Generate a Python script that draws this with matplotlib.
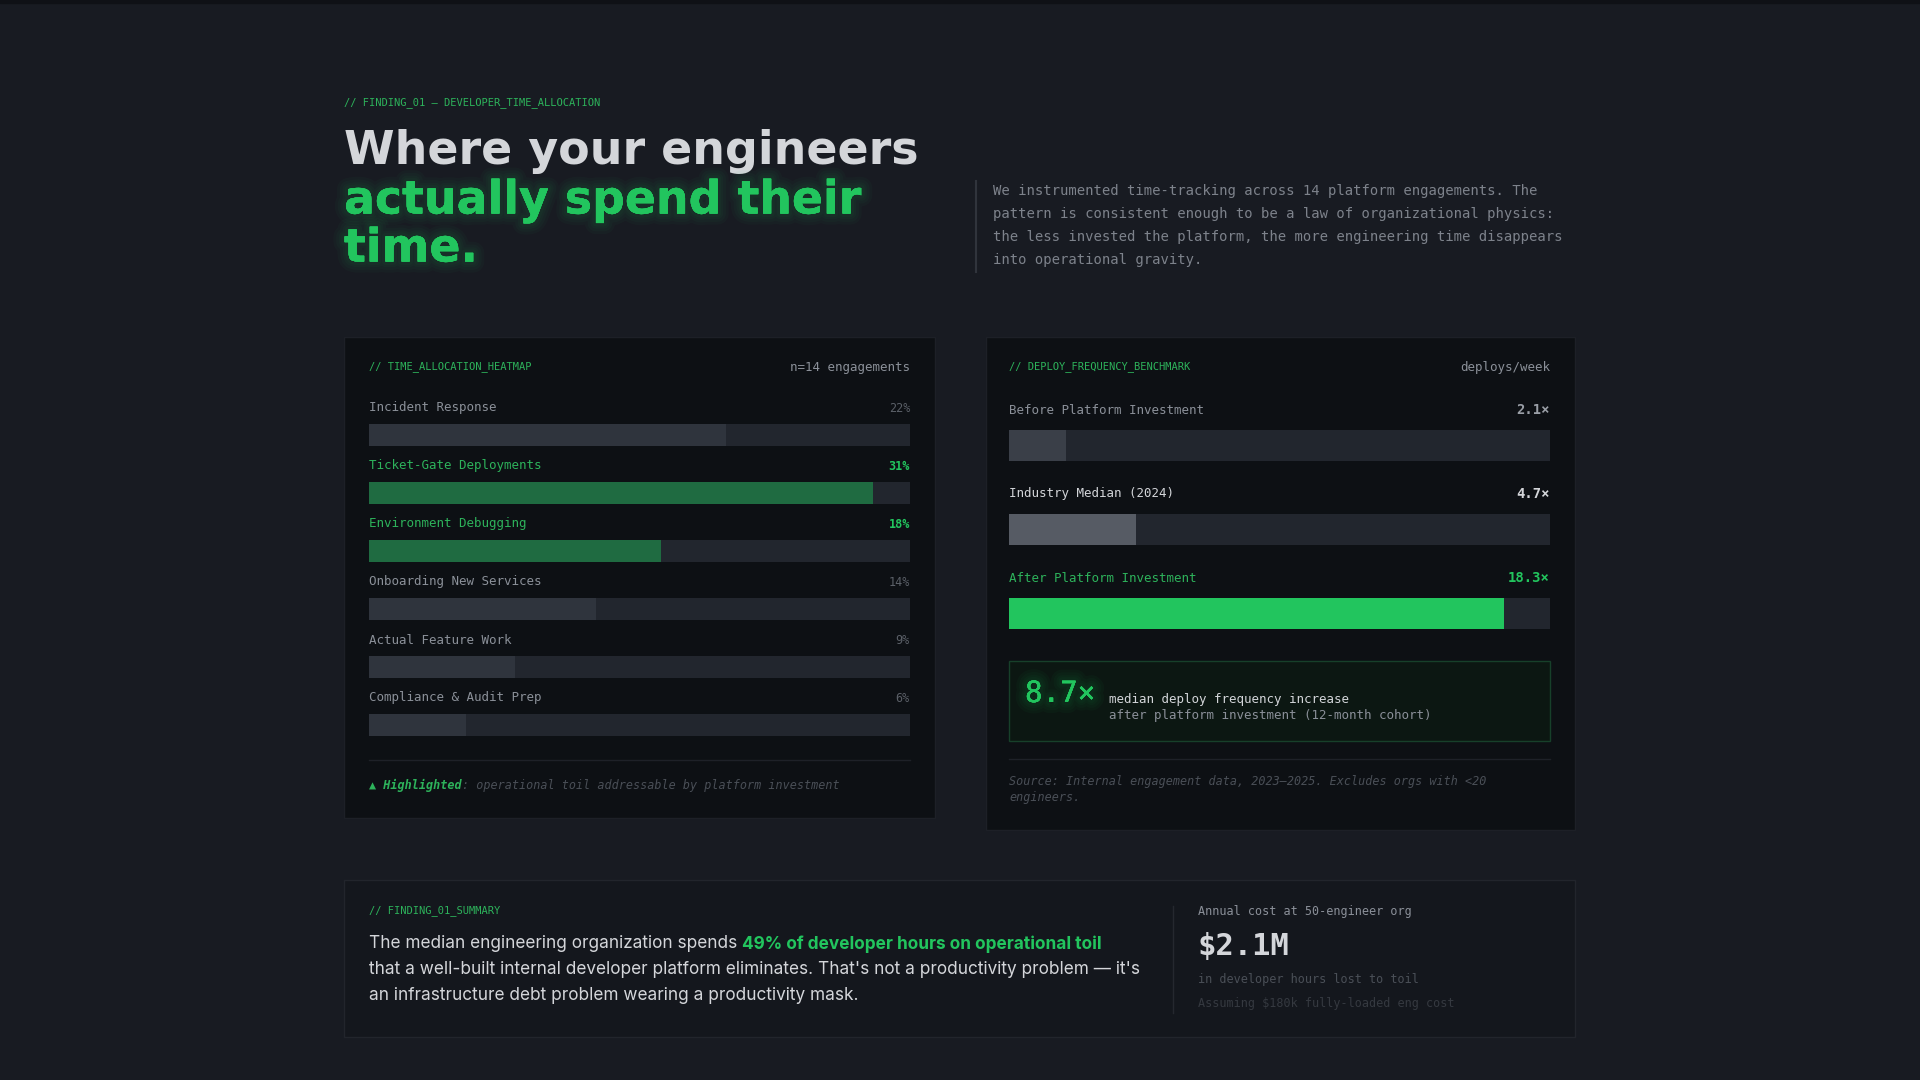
import matplotlib
matplotlib.use("Agg")
import matplotlib.pyplot as plt
from matplotlib.patches import Rectangle
import matplotlib.patheffects as pe

# ---- data ----
alloc_labels = ["Incident Response", "Ticket-Gate Deployments", "Environment Debugging",
                "Onboarding New Services", "Actual Feature Work", "Compliance & Audit Prep"]
alloc_pct = [22, 31, 18, 14, 9, 6]
alloc_highlight = [False, True, True, False, False, False]
ALLOC_MAX = 33.3

deploy_labels = ["Before Platform Investment", "Industry Median (2024)", "After Platform Investment"]
deploy_vals = [2.1, 4.7, 18.3]
DEPLOY_MAX = 20.0

BG = "#181b22"
PANEL = "#0d1014"
TRACK = "#22262e"
GREEN = "#22c55e"
GREEN_DIM = "#1f6b41"
GREEN_TXT = "#2db35b"
TXT = "#8b9099"
TXT_DIM = "#4a4f57"
WHITE = "#d4d6da"
MONO = "DejaVu Sans Mono"

fig = plt.figure(figsize=(19.2, 10.8), dpi=100, facecolor=BG)
ax = fig.add_axes([0, 0, 1, 1])
ax.set_xlim(0, 1920)
ax.set_ylim(1080, 0)
ax.axis("off")
ax.set_facecolor(BG)
ax.add_patch(Rectangle((0, 0), 1920, 3, color="#0f1116"))

def t(x, y, s, **kw):
    kw.setdefault("va", "center")
    kw.setdefault("family", MONO)
    return ax.text(x, y, s, **kw)

# soft glow: several wide strokes at low alpha
glow = [pe.withStroke(linewidth=lw, foreground=GREEN, alpha=0.035) for lw in (16, 12, 8, 5)]
glow.append(pe.Normal())

# header
t(344, 103, "// FINDING_01 — DEVELOPER_TIME_ALLOCATION", color=GREEN_TXT, fontsize=7.5)
t(344, 152, "Where your engineers", color=WHITE, fontsize=33, weight="bold", family="DejaVu Sans")
t(344, 201, "actually spend their", color=GREEN, fontsize=33, weight="bold",
  family="DejaVu Sans", path_effects=glow)
t(344, 249, "time.", color=GREEN, fontsize=33, weight="bold", family="DejaVu Sans", path_effects=glow)
ax.plot([976, 976], [181, 272], color="#30343c", lw=1.5)
para = ["We instrumented time-tracking across 14 platform engagements. The",
        "pattern is consistent enough to be a law of organizational physics:",
        "the less invested the platform, the more engineering time disappears",
        "into operational gravity."]
for i, line in enumerate(para):
    t(993, 191 + i * 23, line, color="#7d828b", fontsize=10)

# left panel
ax.add_patch(Rectangle((344, 337), 591, 481, facecolor=PANEL, edgecolor="#1d2027", lw=1))
t(369, 367, "// TIME_ALLOCATION_HEATMAP", color=GREEN_TXT, fontsize=7.5)
t(910, 367, "n=14 engagements", color=TXT, fontsize=9, ha="right")
bx0, bw = 369, 541
for i, (lab, v, hl) in enumerate(zip(alloc_labels, alloc_pct, alloc_highlight)):
    y = 408 + i * 58
    c = GREEN_TXT if hl else TXT
    t(bx0, y, lab, color=c, fontsize=9)
    t(910, y, f"{v}%", color=GREEN if hl else "#5b6068", fontsize=8.5, ha="right",
      weight="bold" if hl else "normal")
    ax.add_patch(Rectangle((bx0, y + 16), bw, 22, facecolor=TRACK, lw=0))
    ax.add_patch(Rectangle((bx0, y + 16), bw * v / ALLOC_MAX, 22,
                           facecolor=GREEN_DIM if hl else "#2f343d", lw=0))
ax.plot([369, 910], [760, 760], color="#1e2128", lw=1)
r = fig.canvas.get_renderer()
a = t(369, 785, "▲ Highlighted", color=GREEN_TXT, fontsize=8.5, style="italic", weight="bold")
w = a.get_window_extent(r).width
t(369 + w, 785, ": operational toil addressable by platform investment",
  color=TXT_DIM, fontsize=8.5, style="italic")

# right panel
ax.add_patch(Rectangle((986, 337), 589, 493, facecolor=PANEL, edgecolor="#1d2027", lw=1))
t(1009, 367, "// DEPLOY_FREQUENCY_BENCHMARK", color=GREEN_TXT, fontsize=7.5)
t(1550, 367, "deploys/week", color=TXT, fontsize=9, ha="right")
dx0, dw = 1009, 541
lab_cols = [TXT, WHITE, GREEN_TXT]
val_cols = ["#9a9fa7", WHITE, GREEN]
fill_cols = ["#3a3f48", "#565b64", GREEN]
for i, (lab, v) in enumerate(zip(deploy_labels, deploy_vals)):
    y = 410 + i * 84
    t(dx0, y, lab, color=lab_cols[i], fontsize=9)
    t(1550, y, f"{v}×", color=val_cols[i], fontsize=10, ha="right", weight="bold")
    ax.add_patch(Rectangle((dx0, y + 20), dw, 31, facecolor=TRACK, lw=0))
    ax.add_patch(Rectangle((dx0, y + 20), dw * v / DEPLOY_MAX, 31, facecolor=fill_cols[i], lw=0))
ax.add_patch(Rectangle((1009, 661), 541, 80, facecolor="#0c1712", edgecolor="#17402a", lw=1))
t(1025, 694, "8.7×", color=GREEN, fontsize=21, path_effects=glow)
t(1109, 699, "median deploy frequency increase", color=WHITE, fontsize=9)
t(1109, 716, "after platform investment (12-month cohort)", color=TXT, fontsize=9)
ax.plot([1009, 1550], [759, 759], color="#1e2128", lw=1)
t(1009, 781, "Source: Internal engagement data, 2023–2025. Excludes orgs with <20",
  color=TXT_DIM, fontsize=8.5, style="italic")
t(1009, 798, "engineers.", color=TXT_DIM, fontsize=8.5, style="italic")

# bottom panel
ax.add_patch(Rectangle((344, 880), 1231, 157, facecolor="#14171d", edgecolor="#22252c", lw=1))
t(369, 911, "// FINDING_01_SUMMARY", color=GREEN_TXT, fontsize=7.5)
SANS = "Inter"
a = t(369, 944, "The median engineering organization spends ", color=WHITE, fontsize=12.4, family=SANS)
w = a.get_window_extent(r).width
t(369 + w, 944, "49% of developer hours on operational toil", color=GREEN, fontsize=12.4,
  family=SANS, weight="bold")
t(369, 970, "that a well-built internal developer platform eliminates. That's not a productivity problem — it's",
  color=WHITE, fontsize=12.4, family=SANS)
t(369, 996, "an infrastructure debt problem wearing a productivity mask.", color=WHITE, fontsize=12.4, family=SANS)
ax.plot([1173, 1173], [906, 1013], color="#25282f", lw=1)
t(1198, 912, "Annual cost at 50-engineer org", color=TXT, fontsize=8.5)
t(1197, 947, "$2.1M", color=WHITE, fontsize=22, weight="bold")
t(1198, 980, "in developer hours lost to toil", color=TXT_DIM, fontsize=8.5)
t(1198, 1004, "Assuming $180k fully-loaded eng cost", color="#353940", fontsize=8.5)

fig.savefig("out.png", dpi=100, facecolor=BG)
